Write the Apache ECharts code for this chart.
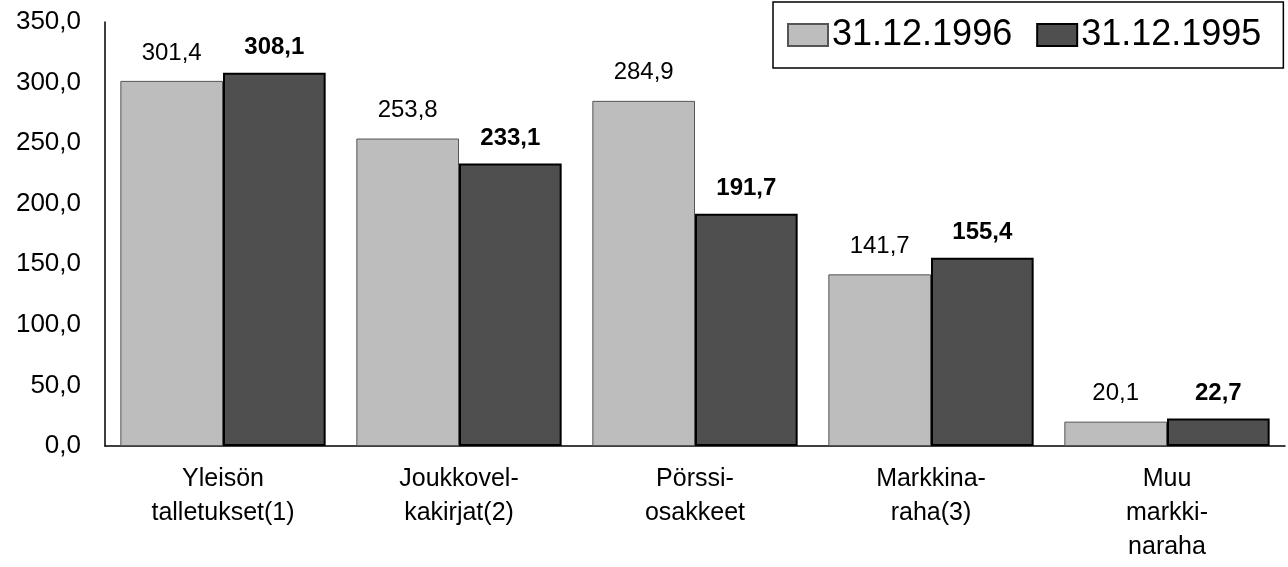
<!DOCTYPE html>
<html>
<head>
<meta charset="utf-8">
<script src="https://cdn.jsdelivr.net/npm/echarts@6/dist/echarts.min.js"></script>
<style>
html,body{margin:0;padding:0;background:#fff;}
#chart{width:1288px;height:567px;}
</style>
</head>
<body>
<div id="chart"></div>
<script>
var categories = ['Yleisön\ntalletukset(1)', 'Joukkovel-\nkakirjat(2)', 'Pörssi-\nosakkeet', 'Markkina-\nraha(3)', 'Muu\nmarkki-\nnaraha'];
var seriesNames = ['31.12.1996', '31.12.1995'];
var values1996 = [301.4, 253.8, 284.9, 141.7, 20.1];
var values1995 = [308.1, 233.1, 191.7, 155.4, 22.7];

var chart = echarts.init(document.getElementById('chart'));
var font = 'Liberation Sans, Arial, sans-serif';
// pilkku desimaalierottimena
function fi(v) { return v.toFixed(1).replace('.', ','); }

var option = {
	animation: false,
	textStyle: { fontFamily: font },
	legend: {
		data: seriesNames,
		icon: 'rect',
		left: 773,
		top: 2,
		padding: [15, 22, 15, 14],
		itemGap: 24,
		itemWidth: 40,
		itemHeight: 22,
		borderColor: '#000',
		borderWidth: 1.5,
		textStyle: { fontSize: 36, color: '#000', fontFamily: font, padding: [0, 0, 0, -1] }
	},
	grid: { left: 105, right: 3, top: 22, bottom: 121 },
	xAxis: {
		type: 'category',
		data: categories,
		axisLine: { lineStyle: { color: '#000', width: 1.5 } },
		axisTick: { show: false },
		axisLabel: { color: '#000', fontSize: 25, lineHeight: 34, margin: 16, interval: 0 }
	},
	yAxis: {
		type: 'value',
		min: 0,
		max: 350,
		interval: 50,
		axisLine: { show: true, lineStyle: { color: '#000', width: 1.5 } },
		axisTick: { show: false },
		splitLine: { show: false },
		axisLabel: { color: '#000', fontSize: 26, margin: 24, formatter: function(v) { return fi(v); } }
	},
	series: [
		{
			name: seriesNames[0],
			type: 'bar',
			data: values1996,
			barWidth: '43.5%',
			barGap: '0%',
			itemStyle: { color: '#bdbdbd', borderColor: '#555', borderWidth: 1 },
			label: {
				show: true, position: 'top', distance: 16,
				fontSize: 24, color: '#000',
				formatter: function(p) { return fi(p.value); }
			}
		},
		{
			name: seriesNames[1],
			type: 'bar',
			data: values1995,
			barWidth: '43.5%',
			itemStyle: { color: '#4f4f4f', borderColor: '#000', borderWidth: 2 },
			label: {
				show: true, position: 'top', distance: 13,
				fontSize: 24, fontWeight: 'bold', color: '#000',
				formatter: function(p) { return fi(p.value); }
			}
		}
	]
};
chart.setOption(option);
</script>
</body>
</html>
